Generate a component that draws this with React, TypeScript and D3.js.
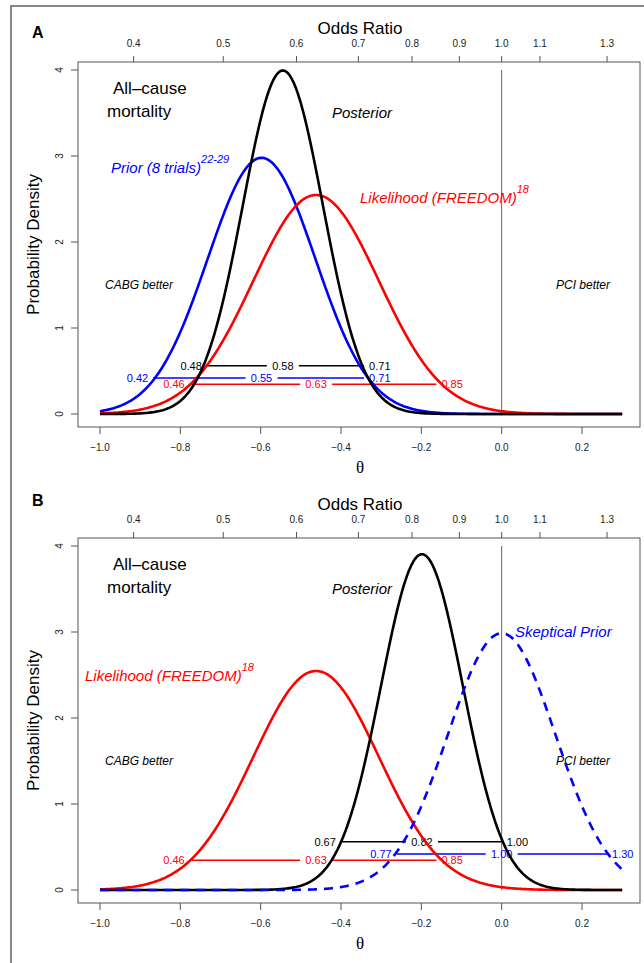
import { useEffect, useRef } from "react";
import * as d3 from "d3";

const W = 644;
const H = 963;

const oddsTicks = [0.4, 0.5, 0.6, 0.7, 0.8, 0.9, 1.0, 1.1, 1.3];
const thetaTicks = [-1.0, -0.8, -0.6, -0.4, -0.2, 0.0, 0.2];
const densityTicks = [0, 1, 2, 3, 4];

// 95% intervals on the odds-ratio scale: [lower, median, upper]
const priorA = [0.42, 0.55, 0.71];
const likelihoodA = [0.46, 0.63, 0.85];
const posteriorA = [0.48, 0.58, 0.71];
const priorB = [0.77, 1.0, 1.3];
const likelihoodB = [0.46, 0.63, 0.85];
const posteriorB = [0.67, 0.82, 1.0];

// density level where each interval bar sits
const barLevels = { posterior: 0.56, prior: 0.42, likelihood: 0.345 };

const SANS = "'Liberation Sans', Arial, Helvetica, sans-serif";
const BLUE = "#0000FF";
const RED = "#FF0000";

// normal density on log-odds scale, parameters taken from the interval
function densityOf(iv: number[]) {
  const mu = Math.log(iv[1]);
  const sd = (Math.log(iv[2]) - Math.log(iv[0])) / (2 * 1.959964);
  return (t: number) => Math.exp(-0.5 * ((t - mu) / sd) ** 2) / (sd * Math.sqrt(2 * Math.PI));
}

export default function App() {
  const svgRef = useRef<SVGSVGElement>(null);

  useEffect(() => {
    if (!svgRef.current) return;
    const svg = d3.select(svgRef.current);
    svg.selectAll("*").remove();

    const x = d3.scaleLinear().domain([-1, 0.2]).range([100, 582]);
    const y = d3.scaleLinear().domain([0, 4]).range([414, 70]);
    const box = { l: 78, r: 640, t: 62, b: 427 };
    const grid = d3.range(-1, 0.3001, 0.004);

    // outer frame
    svg.append("rect")
      .attr("x", 11).attr("y", 6).attr("width", 700).attr("height", 1000)
      .attr("fill", "none").attr("stroke", "#6a6a6a").attr("stroke-width", 1.6);

    const drawPanel = (
      oy: number,
      letter: string,
      letterY: number,
      draw: (g: d3.Selection<SVGGElement, unknown, null, undefined>) => void
    ) => {
      const g = svg.append("g").attr("transform", `translate(0,${oy})`);

      g.append("text").attr("x", 32).attr("y", letterY)
        .attr("font-family", SANS).attr("font-weight", "bold").attr("font-size", 16)
        .text(letter);

      // box
      g.append("rect")
        .attr("x", box.l).attr("y", box.t)
        .attr("width", box.r - box.l).attr("height", box.b - box.t)
        .attr("fill", "none").attr("stroke", "#555").attr("stroke-width", 1);

      // top axis (odds ratio)
      oddsTicks.forEach((o) => {
        const px = x(Math.log(o));
        g.append("line").attr("x1", px).attr("x2", px).attr("y1", box.t).attr("y2", box.t - 6)
          .attr("stroke", "#555");
        g.append("text").attr("x", px).attr("y", 47).attr("text-anchor", "middle")
          .attr("font-family", SANS).attr("font-size", 10).attr("fill", "#222")
          .text(o.toFixed(1));
      });
      g.append("text").attr("x", 360).attr("y", 34).attr("text-anchor", "middle")
        .attr("font-family", SANS).attr("font-size", 17).text("Odds Ratio");

      // bottom axis (theta)
      thetaTicks.forEach((t) => {
        const px = x(t);
        g.append("line").attr("x1", px).attr("x2", px).attr("y1", box.b).attr("y2", box.b + 7)
          .attr("stroke", "#555");
        g.append("text").attr("x", px).attr("y", 451).attr("text-anchor", "middle")
          .attr("font-family", SANS).attr("font-size", 10).attr("fill", "#222")
          .text(t.toFixed(1).replace("-", "\u2212"));
      });
      g.append("text").attr("x", 360).attr("y", 473).attr("text-anchor", "middle")
        .attr("font-family", "'Liberation Serif', 'DejaVu Serif', serif").attr("font-size", 17)
        .text("\u03b8");

      // left axis
      densityTicks.forEach((d) => {
        const py = y(d);
        g.append("line").attr("x1", box.l).attr("x2", box.l - 7).attr("y1", py).attr("y2", py)
          .attr("stroke", "#555");
        g.append("text").attr("transform", `translate(63,${py}) rotate(-90)`)
          .attr("text-anchor", "middle")
          .attr("font-family", SANS).attr("font-size", 10).attr("fill", "#222")
          .text(d);
      });
      g.append("text").attr("transform", `translate(39,${(box.t + box.b) / 2}) rotate(-90)`)
        .attr("text-anchor", "middle")
        .attr("font-family", SANS).attr("font-size", 17).text("Probability Density");

      // null effect line
      g.append("line").attr("x1", x(0)).attr("x2", x(0)).attr("y1", y(4)).attr("y2", y(0))
        .attr("stroke", "#666").attr("stroke-width", 1);

      // annotations
      g.append("text").attr("x", 113).attr("y", 94)
        .attr("font-family", SANS).attr("font-size", 17).text("All\u2013cause");
      g.append("text").attr("x", 107).attr("y", 117)
        .attr("font-family", SANS).attr("font-size", 17).text("mortality");
      g.append("text").attr("x", 332).attr("y", 118).attr("font-style", "italic")
        .attr("font-family", SANS).attr("font-size", 15).text("Posterior");
      g.append("text").attr("x", 105).attr("y", 289).attr("font-style", "italic")
        .attr("font-family", SANS).attr("font-size", 12).text("CABG better");
      g.append("text").attr("x", 556).attr("y", 289).attr("font-style", "italic")
        .attr("font-family", SANS).attr("font-size", 12).text("PCI better");

      draw(g);
    };

    const bar = (
      g: d3.Selection<SVGGElement, unknown, null, undefined>,
      iv: number[],
      level: number,
      color: string
    ) => {
      const [lo, med, hi] = iv.map(Math.log);
      const py = y(level);
      const gap = 16;
      g.append("line").attr("x1", x(lo)).attr("x2", x(med) - gap).attr("y1", py).attr("y2", py)
        .attr("stroke", color).attr("stroke-width", 1.5);
      g.append("line").attr("x1", x(med) + gap).attr("x2", x(hi)).attr("y1", py).attr("y2", py)
        .attr("stroke", color).attr("stroke-width", 1.5);
      const lbl = (px: number, anchor: string, v: number) =>
        g.append("text").attr("x", px).attr("y", py).attr("dy", "0.35em")
          .attr("text-anchor", anchor).attr("fill", color)
          .attr("font-family", SANS).attr("font-size", 11).text(v.toFixed(2));
      lbl(x(lo) - 5, "end", iv[0]);
      lbl(x(med), "middle", iv[1]);
      lbl(x(hi) + 5, "start", iv[2]);
    };

    const curve = (
      g: d3.Selection<SVGGElement, unknown, null, undefined>,
      iv: number[],
      color: string,
      dash?: string
    ) => {
      const f = densityOf(iv);
      const line = d3.line<number>().x((t) => x(t)).y((t) => y(f(t)));
      g.append("path").datum(grid).attr("d", line)
        .attr("fill", "none").attr("stroke", color).attr("stroke-width", 2.6)
        .attr("stroke-dasharray", dash ?? null);
    };

    const label = (
      g: d3.Selection<SVGGElement, unknown, null, undefined>,
      px: number, py: number, color: string, main: string, sup?: string
    ) => {
      const t = g.append("text").attr("x", px).attr("y", py).attr("fill", color)
        .attr("font-family", SANS).attr("font-style", "italic").attr("font-size", 15);
      t.append("tspan").text(main);
      if (sup) t.append("tspan").attr("dy", -10).attr("font-size", 11).text(sup);
    };

    // Panel A
    drawPanel(0, "A", 38, (g) => {
      bar(g, posteriorA, barLevels.posterior, "#000");
      bar(g, priorA, barLevels.prior, BLUE);
      bar(g, likelihoodA, barLevels.likelihood, RED);
      curve(g, priorA, BLUE);
      curve(g, likelihoodA, RED);
      curve(g, posteriorA, "#000");
      label(g, 111, 173, BLUE, "Prior (8 trials)", "22-29");
      label(g, 360, 203, RED, "Likelihood (FREEDOM)", "18");
    });

    // Panel B
    drawPanel(476, "B", 30, (g) => {
      bar(g, posteriorB, barLevels.posterior, "#000");
      bar(g, priorB, barLevels.prior, BLUE);
      bar(g, likelihoodB, barLevels.likelihood, RED);
      curve(g, likelihoodB, RED);
      curve(g, posteriorB, "#000");
      curve(g, priorB, BLUE, "9,7");
      label(g, 515, 161, BLUE, "Skeptical Prior");
      label(g, 85, 205, RED, "Likelihood (FREEDOM)", "18");
    });
  }, []);

  return (
    <svg
      ref={svgRef}
      width={W}
      height={H}
      style={{ position: "absolute", left: 0, top: 0, background: "#fff" }}
    />
  );
}
